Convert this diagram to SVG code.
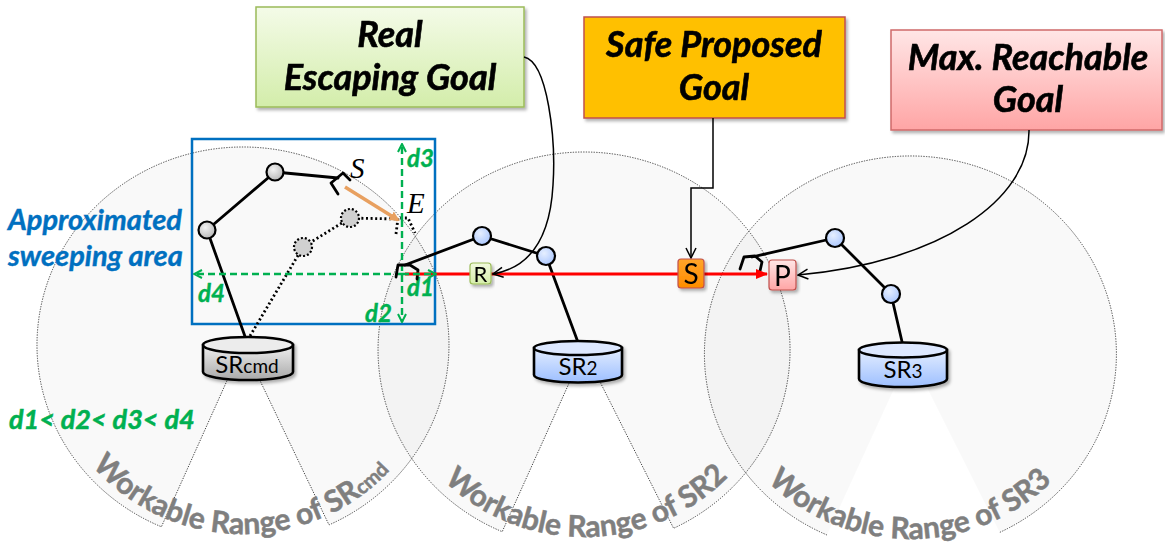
<svg xmlns="http://www.w3.org/2000/svg" width="1165" height="543" viewBox="0 0 1165 543">
  <style>
    .range { fill: #000; fill-opacity: 0.025; }
    .range-edge { fill: none; stroke: #444; stroke-width: 1; stroke-dasharray: 1.3 1.3; }
    .range-label { font-family: Lato, "Liberation Sans", sans-serif; font-weight: bold; font-size: 30px; fill: #7f7f7f; stroke: #7f7f7f; stroke-width: 0.5; }
    .goal { font-family: Lato, "Liberation Sans", sans-serif; font-weight: bold; font-style: italic; font-size: 36px; fill: #000; stroke: #000; stroke-width: 0.6; text-anchor: middle; }
    .blue-note { font-family: Lato, "Liberation Sans", sans-serif; font-weight: bold; font-style: italic; font-size: 29px; fill: #0070c0; stroke: #0070c0; stroke-width: 0.4; }
    .dist { font-family: Lato, "Liberation Sans", sans-serif; font-weight: bold; font-style: italic; font-size: 24px; fill: #00b050; stroke: #00b050; stroke-width: 0.4; }
    .dist-order { font-family: Lato, "Liberation Sans", sans-serif; font-weight: bold; font-style: italic; font-size: 27px; fill: #00b050; stroke: #00b050; stroke-width: 0.5; }
    .pt { font-family: "Liberation Serif", serif; font-style: italic; font-size: 29px; fill: #000; }
    .cyl-label { font-family: Lato, "Liberation Sans", sans-serif; font-size: 24px; fill: #000; text-anchor: middle; }
    .node-label { font-family: Lato, "Liberation Sans", sans-serif; fill: #000; text-anchor: middle; }
    .link { fill: none; stroke: #000; stroke-width: 2.8; stroke-linecap: round; stroke-linejoin: round; }
    .ghost { fill: none; stroke: #000; stroke-width: 2.8; stroke-dasharray: 2 2.6; }
    .joint-gray { fill: url(#jointGray); stroke: #000; stroke-width: 2.2; }
    .joint-blue { fill: url(#jointBlue); stroke: #000; stroke-width: 2.2; }
    .joint-ghost { fill: #d0d0d0; stroke: #000; stroke-width: 2.2; stroke-dasharray: 2 2; }
    .cyl { stroke: #000; stroke-width: 2.6; }
    .green-dash { fill: none; stroke: #00b050; stroke-width: 2.4; stroke-dasharray: 7 4; }
    .callout { fill: none; stroke: #000; stroke-width: 1.5; }
  </style>
  <defs>
    <linearGradient id="gGreen" x1="0" y1="0" x2="0" y2="1">
      <stop offset="0" stop-color="#f4fbe8"/>
      <stop offset="1" stop-color="#d3edaa"/>
    </linearGradient>
    <linearGradient id="gPink" x1="0" y1="0" x2="0" y2="1">
      <stop offset="0" stop-color="#ffe6e6"/>
      <stop offset="1" stop-color="#ffa5a5"/>
    </linearGradient>
    <linearGradient id="gNodeS" x1="0" y1="0" x2="0" y2="1">
      <stop offset="0" stop-color="#ffa52a"/>
      <stop offset="1" stop-color="#ff8c00"/>
    </linearGradient>
    <linearGradient id="gNodeR" x1="0" y1="0" x2="0" y2="1">
      <stop offset="0" stop-color="#f2fadf"/>
      <stop offset="1" stop-color="#d6eeaa"/>
    </linearGradient>
    <linearGradient id="gCylGray" x1="0" y1="0" x2="0" y2="1">
      <stop offset="0" stop-color="#f0f0f0"/>
      <stop offset="1" stop-color="#a9a9a9"/>
    </linearGradient>
    <linearGradient id="gCylBlue" x1="0" y1="0" x2="0" y2="1">
      <stop offset="0" stop-color="#e3edff"/>
      <stop offset="1" stop-color="#9dbfff"/>
    </linearGradient>
    <radialGradient id="jointGray" cx="0.4" cy="0.35" r="0.7">
      <stop offset="0" stop-color="#f2f2f2"/>
      <stop offset="1" stop-color="#b5b5b5"/>
    </radialGradient>
    <radialGradient id="jointBlue" cx="0.4" cy="0.35" r="0.7">
      <stop offset="0" stop-color="#e6efff"/>
      <stop offset="1" stop-color="#a9c6ff"/>
    </radialGradient>
    <filter id="shadow" x="-10%" y="-10%" width="125%" height="130%">
      <feDropShadow dx="2" dy="2.5" stdDeviation="1.6" flood-color="#000" flood-opacity="0.3"/>
    </filter>
    <marker id="openArrow" viewBox="0 0 12 12" refX="11" refY="6" markerWidth="12" markerHeight="12" markerUnits="userSpaceOnUse" orient="auto">
      <path d="M1,1 L11,6 L1,11" fill="none" stroke="#000" stroke-width="1.5"/>
    </marker>
    <marker id="greenArrow" viewBox="0 0 10 10" refX="9" refY="5" markerWidth="10" markerHeight="10" markerUnits="userSpaceOnUse" orient="auto">
      <path d="M1,1 L9,5 L1,9" fill="none" stroke="#00b050" stroke-width="2"/>
    </marker>
    <marker id="redArrow" viewBox="0 0 12 10" refX="11" refY="5" markerWidth="12" markerHeight="10" markerUnits="userSpaceOnUse" orient="auto">
      <path d="M0,0 L12,5 L0,10 Z" fill="#ff0000"/>
    </marker>
    <marker id="orangeArrow" viewBox="0 0 10 10" refX="8" refY="5" markerWidth="10" markerHeight="10" markerUnits="userSpaceOnUse" orient="auto">
      <path d="M0,0 L10,5 L0,10 Z" fill="#e8a060"/>
    </marker>
    <!-- baselines for the curved range captions -->
    <path id="arc1" d="M47,345 A196,189 0 0 0 439,345"/>
    <path id="arc2" d="M388,350 A196,187 0 0 0 780,350"/>
    <path id="arc3" d="M714,354 A196,185 0 0 0 1106,354"/>
  </defs>

  <!-- workable ranges -->
  <g id="range-srcmd">
    <path class="range" d="M243,345 L161.4,526.8 A206,198 0 1 1 329,524.9 Z"/>
    <path class="range-edge" d="M243,345 L161.4,526.8 A206,198 0 1 1 329,524.9 Z"/>
    <text class="range-label"><textPath href="#arc1" startOffset="49.5%" text-anchor="middle">Workable Range of SR<tspan font-size="20">cmd</tspan></textPath></text>
  </g>
  <g id="range-sr2">
    <path class="range" d="M584,350 L502.2,531.7 A206,198 0 1 1 673.6,528.3 Z"/>
    <path class="range-edge" d="M584,350 L502.2,531.7 A206,198 0 1 1 673.6,528.3 Z"/>
    <text class="range-label"><textPath href="#arc2" startOffset="50.5%" text-anchor="middle">Workable Range of SR2</textPath></text>
  </g>
  <g id="range-sr3">
    <path class="range" d="M910,354 L827,535 A206,198 0 1 1 999.7,532.4 Z"/>
    <path class="range-edge" d="M827,535 A206,198 0 1 1 999.7,532.4"/>
    <text class="range-label"><textPath href="#arc3" startOffset="50%" text-anchor="middle">Workable Range of SR3</textPath></text>
  </g>

  <!-- sweeping area box and its notes -->
  <g id="sweep-area">
    <rect x="192" y="139" width="243" height="185" fill="none" stroke="#0070c0" stroke-width="2.5"/>
    <text class="blue-note" x="8" y="230">Approximated</text>
    <text class="blue-note" x="8" y="266">sweeping area</text>
  </g>

  <!-- goal boxes -->
  <g id="goal-real" filter="url(#shadow)">
    <rect x="256" y="7" width="268" height="100" fill="url(#gGreen)" stroke="#9bbb59" stroke-width="1.5"/>
    <text class="goal" x="390" y="47">Real</text>
    <text class="goal" x="390" y="90">Escaping Goal</text>
  </g>
  <g id="goal-safe" filter="url(#shadow)">
    <rect x="584" y="17" width="261" height="101" fill="#ffc000" stroke="#c0504d" stroke-width="1.5"/>
    <text class="goal" x="714" y="57">Safe Proposed</text>
    <text class="goal" x="714" y="100">Goal</text>
  </g>
  <g id="goal-max" filter="url(#shadow)">
    <rect x="891" y="30" width="271" height="100" fill="url(#gPink)" stroke="#d06a6a" stroke-width="1.5"/>
    <text class="goal" x="1028" y="70">Max. Reachable</text>
    <text class="goal" x="1028" y="112">Goal</text>
  </g>

  <!-- commanded robot SRcmd: current pose (solid) and swept pose (dotted) -->
  <g id="robot-srcmd">
    <path class="ghost" d="M250,336 L303,247 L350,218 L397,219"/>
    <path class="ghost" d="M396,234 L398,218 L408,218 L415,233"/>
    <circle class="joint-ghost" cx="303" cy="247" r="9"/>
    <circle class="joint-ghost" cx="350" cy="218" r="9"/>
    <path class="link" d="M247,342 L207,230 L275,172 L338,178"/>
    <path class="link" d="M338,194 L331,183 L343,173 L350,180"/>
    <circle class="joint-gray" cx="207" cy="230" r="8.5"/>
    <circle class="joint-gray" cx="275" cy="172" r="8.5"/>
    <g filter="url(#shadow)">
      <path class="cyl" d="M203,345 L203,372 A45,8 0 0 0 293,372 L293,345 Z" fill="url(#gCylGray)"/>
      <ellipse class="cyl" cx="248" cy="345" rx="45" ry="8" fill="#ececec"/>
    </g>
    <text class="cyl-label" x="247" y="373">SR<tspan font-size="19">cmd</tspan></text>
    <text class="pt" x="350" y="178">S</text>
    <text class="pt" x="407" y="213">E</text>
    <path d="M345,187 L398,220" fill="none" stroke="#e8a060" stroke-width="3.5" marker-end="url(#orangeArrow)"/>
  </g>

  <!-- distance measures -->
  <g id="distances">
    <path class="green-dash" d="M402,220 V144" marker-end="url(#greenArrow)"/>
    <path class="green-dash" d="M402,220 V322" marker-end="url(#greenArrow)"/>
    <path class="green-dash" d="M402,274 H194" marker-end="url(#greenArrow)"/>
    <text class="dist" x="407" y="167">d3</text>
    <text class="dist" x="198" y="302">d4</text>
    <text class="dist" x="407" y="296">d1</text>
    <text class="dist" x="365" y="322">d2</text>
    <text class="dist-order" x="9" y="429">d1&lt; d2&lt; d3&lt; d4</text>
  </g>

  <!-- robot SR2 -->
  <g id="robot-sr2">
    <path class="link" d="M405,265 L482,236 L546,256 L579,345"/>
    <path class="link" d="M396,277 L398,265 L410,265 L418,270 L417,279"/>
    <circle class="joint-blue" cx="482" cy="236" r="9"/>
    <circle class="joint-blue" cx="546" cy="256" r="9"/>
    <g filter="url(#shadow)">
      <path class="cyl" d="M534,348 L534,375 A44,7.5 0 0 0 622,375 L622,348 Z" fill="url(#gCylBlue)"/>
      <ellipse class="cyl" cx="578" cy="348" rx="44" ry="7" fill="#dde8ff"/>
    </g>
    <text class="cyl-label" x="578" y="375">SR<tspan font-size="19">2</tspan></text>
  </g>

  <!-- robot SR3 -->
  <g id="robot-sr3">
    <path class="link" d="M752,257 L835,238 L891,294 L903,346"/>
    <path class="link" d="M740,269 L744,257 L755,256 L762,262 L760,271"/>
    <circle class="joint-blue" cx="835" cy="238" r="9"/>
    <circle class="joint-blue" cx="891" cy="294" r="9"/>
    <g filter="url(#shadow)">
      <path class="cyl" d="M859,350 L859,379 A44,8 0 0 0 947,379 L947,350 Z" fill="url(#gCylBlue)"/>
      <ellipse class="cyl" cx="903" cy="350" rx="44" ry="7.5" fill="#dde8ff"/>
    </g>
    <text class="cyl-label" x="903" y="378">SR<tspan font-size="19">3</tspan></text>
  </g>

  <!-- connectors -->
  <g id="connectors">
    <path d="M405,274 H767" fill="none" stroke="#ff0000" stroke-width="3.2" marker-end="url(#redArrow)"/>
    <path class="green-dash" d="M402,274 H436" marker-end="url(#greenArrow)"/>
    <path class="callout" d="M524,57 C548,62 556,140 553,185 C550,240 528,268 493,274" marker-end="url(#openArrow)"/>
    <path class="callout" d="M713,118 V188 H691 V258" marker-end="url(#openArrow)"/>
    <path class="callout" d="M1029,130 C1030,200 940,262 798,275" marker-end="url(#openArrow)"/>
  </g>

  <!-- goal markers on the path -->
  <g id="node-r" filter="url(#shadow)">
    <rect x="470" y="263" width="21" height="21" rx="3" fill="url(#gNodeR)" stroke="#9bbb59" stroke-width="1.2"/>
    <text class="node-label" x="480.5" y="281.5" font-size="22">R</text>
  </g>
  <g id="node-s" filter="url(#shadow)">
    <rect x="678" y="259" width="26" height="29" rx="3" fill="url(#gNodeS)" stroke="#c0504d" stroke-width="1.2"/>
    <text class="node-label" x="691" y="284" font-size="28">S</text>
  </g>
  <g id="node-p" filter="url(#shadow)">
    <rect x="769" y="260" width="27" height="30" rx="3" fill="url(#gPink)" stroke="#c0504d" stroke-width="1.2"/>
    <text class="node-label" x="782.5" y="286" font-size="28">P</text>
  </g>
</svg>
